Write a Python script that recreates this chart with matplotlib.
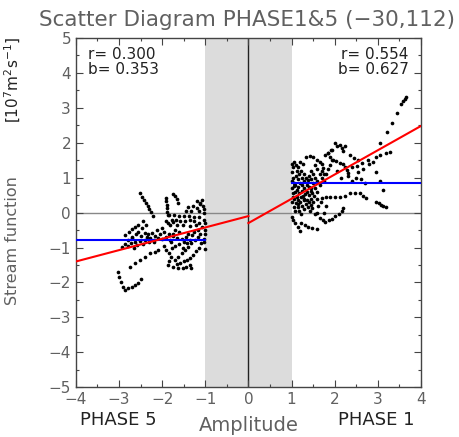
import matplotlib
matplotlib.use("Agg")
import matplotlib.pyplot as plt

# scatter points, phase 5 (left) and phase 1 (right)
p5_x = [-2.52, -2.47, -2.43, -2.38, -2.33, -2.30, -2.26, -2.22,
        -1.91, -1.90, -1.89, -1.89, -1.88, -1.87,
        -1.75, -1.70, -1.66, -1.64,
        -1.20, -1.13, -1.06, -1.02, -1.03, -1.28, -1.20, -1.33,
        -1.84, -1.72, -1.61, -1.49, -1.38, -1.27, -1.15,
        -1.82, -1.66, -1.51, -1.36, -1.21, -1.08,
        -2.86, -2.78, -2.70, -2.63, -2.55, -2.47, -2.39, -2.32, -2.24, -2.16, -2.09, -2.01,
        -2.70, -2.60, -2.50, -2.40, -2.30, -2.20,
        -2.93, -2.86, -2.79, -2.71, -2.63,
        -2.75, -2.63, -2.52, -2.40, -2.29, -2.17, -2.09,
        -3.02, -2.99, -2.95, -2.91, -2.87,
        -2.79, -2.71, -2.63, -2.55, -2.48,
        -1.90, -1.83, -1.79, -1.83, -1.86, -1.74, -1.63, -1.52, -1.44, -1.36, -1.32,
        -1.71, -1.63, -1.55, -1.48, -1.40, -1.32, -1.24, -1.17, -1.09, -1.01,
        -1.02, -1.01, -1.00, -1.01, -1.02, -1.03,
        -1.95, -1.85, -1.75, -1.65, -1.55, -1.45, -1.70, -1.60, -1.50, -1.40, -1.30,
        -1.80, -1.70, -1.95, -1.75, -1.75, -1.76,
        -2.80, -2.72, -2.66, -2.58, -2.52, -2.45, -2.36, -2.28, -2.18, -2.12, -2.05, -2.00,
        -1.92, -1.86, -1.78, -1.68, -1.58, -1.46, -1.36, -1.25, -1.15,
        -1.90, -1.82, -1.62, -1.52, -1.42, -1.35, -1.25, -1.18, -1.12, -1.15, -1.22,
        -1.28, -1.35, -1.42, -1.50, -1.58, -1.66,
        -1.12, -1.08, -1.15, -1.40, -1.45,
        -2.45, -2.38, -2.55]
p5_y = [0.55, 0.45, 0.37, 0.28, 0.19, 0.10, 0.01, -0.10,
        0.42, 0.32, 0.22, 0.13, 0.03, -0.07,
        0.54, 0.47, 0.38, 0.28,
        0.32, 0.27, 0.19, 0.09, -0.02, 0.20, 0.12, 0.05,
        -0.07, -0.08, -0.09, -0.09, -0.09, -0.12, -0.13,
        -0.36, -0.36, -0.36, -0.39, -0.36, -0.42,
        -0.63, -0.55, -0.47, -0.40, -0.35, -0.45, -0.58, -0.62, -0.58, -0.67, -0.72, -0.77,
        -0.70, -0.62, -0.68, -0.78, -0.85, -0.85,
        -0.98, -0.89, -0.79, -0.74, -0.84,
        -1.55, -1.45, -1.36, -1.26, -1.17, -1.12, -1.07,
        -1.70, -1.85, -1.99, -2.13, -2.22,
        -2.17, -2.12, -2.08, -2.03, -1.89,
        -1.07, -1.17, -1.26, -1.40, -1.50, -1.55, -1.60, -1.60, -1.55, -1.50, -1.60,
        -1.36, -1.26, -1.17, -1.07, -0.98, -0.88, -0.79, -0.69, -0.88, -1.03,
        -0.20, -0.30, -0.50, -0.60, -0.75, -0.85,
        -0.55, -0.62, -0.68, -0.72, -0.75, -0.70, -0.50, -0.55, -0.85, -0.60, -0.65,
        -0.85, -0.95, -0.95, -0.27, -0.60, -1.00,
        -0.95, -0.88, -1.00, -0.92, -0.80, -0.90, -0.70, -0.72, -0.78, -0.50, -0.60, -0.45,
        -0.25, -0.30, -0.20, -0.22, -0.25, -0.25, -0.22, -0.25, -0.30,
        -0.70, -0.78, -0.90, -1.00, -0.88, -0.78, -0.55, -0.50, -0.60, -1.00, -1.10,
        -1.20, -1.30, -1.35, -1.40, -1.45, -1.48,
        0.25, 0.35, 0.05, 0.15, 0.05,
        -0.25, -0.35, -0.55]

p1_x = [3.65, 3.62, 3.58, 3.53, 3.45, 3.33, 3.21, 3.05,
        3.28, 3.18, 3.05, 2.96, 2.78, 2.63, 2.51, 2.40,
        2.97, 3.05, 3.11,
        2.97, 3.02, 3.07, 3.13, 3.18,
        2.01, 2.12, 2.24, 2.35, 2.47, 2.59, 2.66, 2.73,
        1.66, 1.72, 1.78, 1.86, 1.94, 2.01, 2.09, 2.16, 2.20,
        1.00, 1.04, 1.08, 1.14, 1.19, 1.23, 1.31, 1.39, 1.47, 1.58,
        1.89, 1.96, 2.04, 2.12, 2.20, 2.24, 2.28, 2.31,
        2.00, 2.05, 2.12, 2.16, 2.20, 2.25, 1.95, 1.85, 2.35, 2.45, 2.55,
        1.00, 1.03, 1.00, 1.03, 1.06, 1.00, 1.03, 1.06, 1.10, 1.15,
        1.15, 1.23, 1.30, 1.34, 1.38,
        1.10, 1.15, 1.20, 1.25, 1.30, 1.35, 1.40, 1.45, 1.50,
        1.12, 1.18, 1.22, 1.28, 1.33, 1.38, 1.42,
        1.08, 1.16, 1.24, 1.32, 1.20, 1.25, 1.30, 1.18, 1.22,
        1.34, 1.42, 1.50, 1.58, 1.65, 1.70, 1.72,
        1.77, 1.84, 1.91,
        1.45, 1.50, 1.55, 1.60, 1.65, 1.50, 1.55, 1.60, 1.45, 1.70, 1.75, 1.80, 1.85, 1.90, 1.60, 1.55,
        1.60, 1.70, 1.80, 1.90, 1.55, 1.58,
        1.02, 1.05, 1.08, 1.04, 1.02, 1.06, 1.08, 1.12, 1.14, 1.16, 1.26, 1.30, 1.35, 1.40,
        1.44, 1.48, 1.36, 1.40, 1.44, 1.48, 1.52, 1.12, 1.18, 1.25, 1.28, 1.10, 1.05, 1.20,
        1.27, 1.40, 1.45, 1.65, 1.70, 1.75, 1.95, 2.05, 2.15, 2.30, 2.40, 2.50, 2.60, 2.70,
        2.55, 2.65, 2.80, 2.90, 1.62, 1.68, 1.75, 1.80]
p1_y = [3.32, 3.25, 3.19, 3.11, 2.84, 2.58, 2.30, 2.00,
        1.74, 1.71, 1.65, 1.58, 1.50, 1.41, 1.33, 1.30,
        1.17, 0.90, 0.64,
        0.31, 0.27, 0.23, 0.19, 0.15,
        0.45, 0.45, 0.47, 0.55, 0.57, 0.55, 0.47, 0.41,
        -0.16, -0.22, -0.26, -0.22, -0.17, -0.11, -0.03, 0.05, 0.12,
        -0.12, -0.22, -0.31, -0.41, -0.53, -0.31, -0.35, -0.40, -0.43, -0.48,
        1.60, 1.52, 1.47, 1.43, 1.38, 1.30, 1.22, 1.13,
        2.00, 1.90, 1.95, 1.85, 1.75, 1.90, 1.80, 1.70, 1.65, 1.55, 1.50,
        1.40, 1.30, 1.15, 1.00, 0.85, 0.70, 0.55, 0.40, 0.28, 0.17,
        1.31, 1.20, 1.10, 1.00, 0.93,
        1.05, 0.95, 0.85, 0.78, 0.70, 0.60, 0.50, 0.40, 0.30,
        0.65, 0.55, 0.45, 0.35, 0.25, 0.15, 0.05,
        0.80, 0.72, 0.62, 0.52, 0.30, 0.20, 0.10, 0.05, -0.05,
        1.60, 1.62, 1.58, 1.52, 1.46, 1.38, 1.28,
        1.65, 1.72, 1.79,
        1.20, 1.10, 1.00, 0.90, 0.80, 0.85, 0.70, 0.60, 0.70, 1.00, 0.90, 1.10, 1.25, 1.35, 1.25, 1.35,
        0.40, 0.42, 0.44, 0.45, -0.05, 0.00,
        0.90, 0.75, 0.60, 0.45, 0.30, 0.15, 0.05, 0.45, 0.35, 0.25, 0.48, 0.40, 0.35, 0.30,
        0.22, 0.12, 0.80, 0.72, 0.62, 0.55, 0.48, 1.20, 1.10, 1.00, 0.90, 1.35, 1.45, 1.45,
        1.38, 1.05, 0.95, 1.10, 1.20, 1.10, 1.50, 1.20, 1.00, 1.05, 0.90, 1.00, 0.95, 0.85,
        1.15, 1.25, 1.40, 1.45, 0.20, 0.30, 0.00, 0.20]

# regression lines (red) and mean of y (blue)
reg5_x = [-4.0, 0.0]
reg5_y = [-1.40, -0.10]
reg1_x = [0.0, 4.0]
reg1_y = [-0.30, 2.48]
mean5_x = [-4.0, -1.0]
mean5_y = [-0.79, -0.79]
mean1_x = [1.0, 4.0]
mean1_y = [0.84, 0.84]

stats5 = "r= 0.300\nb= 0.353"
stats1 = "r= 0.554\nb= 0.627"

grey = "#606060"

fig = plt.figure(figsize=(4.6, 4.37), dpi=100)
ax = fig.add_axes([0.165, 0.114, 0.75, 0.799])

ax.axvspan(-1, 1, color="#dcdcdc", lw=0, zorder=0)
ax.axhline(0, color="#888888", lw=1, zorder=1)
ax.axvline(0, color="#222222", lw=1, zorder=1)

ax.scatter(p5_x, p5_y, s=7, color="black", lw=0, zorder=3)
ax.scatter(p1_x, p1_y, s=7, color="black", lw=0, zorder=3)

ax.plot(mean5_x, mean5_y, color="blue", lw=1.5, zorder=4)
ax.plot(mean1_x, mean1_y, color="blue", lw=1.5, zorder=4)
ax.plot(reg5_x, reg5_y, color="red", lw=1.5, zorder=5)
ax.plot(reg1_x, reg1_y, color="red", lw=1.5, zorder=5)

ax.set_xlim(-4, 4)
ax.set_ylim(-5, 5)
ax.set_xticks(range(-4, 5))
ax.set_yticks(range(-5, 6))
ax.set_xticks([i / 2 for i in range(-8, 9)], minor=True)
ax.set_yticks([i / 2 for i in range(-10, 11)], minor=True)
ax.tick_params(which="both", direction="in", top=True, right=True,
               colors="#444444", labelcolor=grey, labelsize=11)
ax.tick_params(which="major", length=5, width=0.8)
ax.tick_params(which="minor", length=2.5, width=0.8)
for s in ax.spines.values():
    s.set_color("#444444")
    s.set_linewidth(1)

ax.text(0.035, 0.975, stats5, transform=ax.transAxes, ha="left", va="top",
        fontsize=11, color="#222222", linespacing=1.05)
ax.text(0.965, 0.975, stats1, transform=ax.transAxes, ha="right", va="top",
        fontsize=11, color="#222222", linespacing=1.05)

fig.text(0.538, 0.955, "Scatter Diagram PHASE1&5 (\u221230,112)", ha="center",
         va="center", fontsize=15.5, color=grey)
fig.text(0.54, 0.027, "Amplitude", ha="center", va="center", fontsize=14, color=grey)
fig.text(0.257, 0.04, "PHASE 5", ha="center", va="center", fontsize=13, color="#222222")
fig.text(0.818, 0.04, "PHASE 1", ha="center", va="center", fontsize=13, color="#222222")
fig.text(0.028, 0.45, "Stream function", rotation=90, ha="center", va="center",
         fontsize=11.5, color=grey)
fig.text(0.028, 0.817, "[10$^7$m$^2$s$^{-1}$]", rotation=90, ha="center", va="center",
         fontsize=11, color="#222222")

fig.savefig("out.png", dpi=100)
